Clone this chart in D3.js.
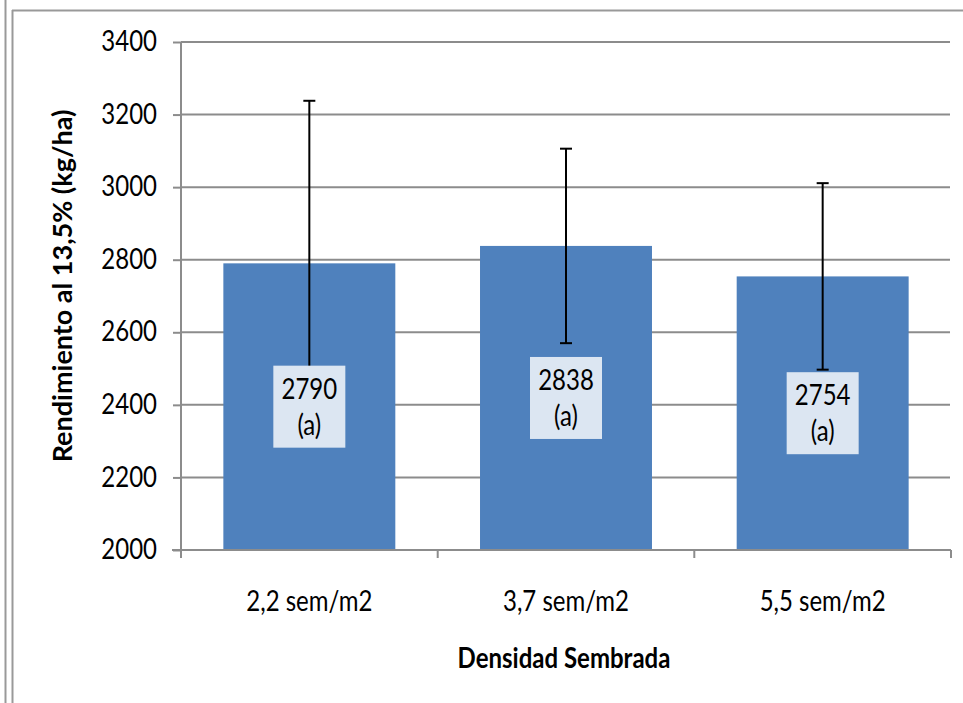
<!DOCTYPE html>
<html>
<head>
<meta charset="utf-8">
<script src="https://cdn.jsdelivr.net/npm/d3@7"></script>
<style>
  body { margin: 0; background: #fff; }
  svg { display: block; font-family: Lato, 'Open Sans', sans-serif; }
  .tick text { fill: #000; }
</style>
</head>
<body>
<svg width="963" height="703"></svg>
<script>
const categories = ['2,2 sem/m2', '3,7 sem/m2', '5,5 sem/m2']
const values = [2790, 2838, 2754]
const errors = [448, 268, 257]
const letters = ['(a)', '(a)', '(a)']
const yTicks = [2000, 2200, 2400, 2600, 2800, 3000, 3200, 3400]

const svg = d3.select('svg')

// frame lines
svg.append('line').attr('x1', 5.5).attr('x2', 5.5).attr('y1', 0).attr('y2', 703)
  .attr('stroke', '#999').attr('stroke-width', 2)
svg.append('line').attr('x1', 12.5).attr('x2', 12.5).attr('y1', 10).attr('y2', 703)
  .attr('stroke', '#999').attr('stroke-width', 2)
svg.append('line').attr('x1', 12).attr('x2', 963).attr('y1', 10.5).attr('y2', 10.5)
  .attr('stroke', '#999').attr('stroke-width', 2)

const x = d3.scaleBand().domain(categories).range([181, 951]).paddingInner(0.33).paddingOuter(0.165)
const y = d3.scaleLinear().domain([2000, 3400]).range([550, 42])

// gridlines
svg.append('g')
  .selectAll('line')
  .data(yTicks.slice(1))
  .enter()
  .append('line')
  .attr('x1', 181).attr('x2', 950)
  .attr('y1', d => y(d)).attr('y2', d => y(d))
  .attr('stroke', '#8c8c8c').attr('stroke-width', 2)

// bars
svg.append('g')
  .selectAll('rect')
  .data(values)
  .enter()
  .append('rect')
  .attr('x', (d, i) => x(categories[i]))
  .attr('width', x.bandwidth())
  .attr('y', d => y(d))
  .attr('height', d => y(2000) - y(d))
  .attr('fill', '#4f81bd')

// error bars
const err = svg.append('g').attr('stroke', '#000').attr('stroke-width', 2)
values.forEach((v, i) => {
  const cx = x(categories[i]) + x.bandwidth() / 2
  err.append('line').attr('x1', cx).attr('x2', cx).attr('y1', y(v + errors[i])).attr('y2', y(v - errors[i]))
  err.append('line').attr('x1', cx - 6).attr('x2', cx + 6).attr('y1', y(v + errors[i])).attr('y2', y(v + errors[i]))
  err.append('line').attr('x1', cx - 6).attr('x2', cx + 6).attr('y1', y(v - errors[i])).attr('y2', y(v - errors[i]))
})

// value labels (text slightly stretched vertically like the original)
const labels = svg.append('g')
values.forEach((v, i) => {
  const cx = x(categories[i]) + x.bandwidth() / 2
  const cy = (y(v) + y(2000)) / 2
  labels.append('rect').attr('x', cx - 36).attr('y', cy - 41).attr('width', 72).attr('height', 82)
    .attr('fill', '#dce6f2')
  labels.append('text').attr('transform', `translate(${cx},${cy - 8}) scale(1,1.2)`).attr('text-anchor', 'middle')
    .style('font-size', '24px').text(v)
  labels.append('text').attr('transform', `translate(${cx},${cy + 28}) scale(1,1.2)`).attr('text-anchor', 'middle')
    .style('font-size', '24px').text(letters[i])
})

// y axis
const yAxis = svg.append('g')
  .attr('transform', 'translate(181,0)')
  .call(d3.axisLeft(y).tickValues(yTicks).tickFormat(d3.format('d')).tickSize(8).tickPadding(16))
  .attr('font-family', null).attr('font-size', null)
yAxis.selectAll('.tick line').attr('stroke', '#8c8c8c').attr('stroke-width', 2)
yAxis.selectAll('.tick text')
  .attr('transform', 'scale(1,1.2)')
  .attr('dy', '0.3em')
  .style('font-size', '24px')
yAxis.select('.domain').attr('stroke', '#8c8c8c').attr('stroke-width', 2).attr('d', 'M0,42V550')

// x axis
const xAxis = svg.append('g')
  .attr('transform', 'translate(0,550)')
  .call(d3.axisBottom(x).tickSize(0).tickPadding(0))
  .attr('font-family', null).attr('font-size', null)
xAxis.select('.domain').attr('stroke', '#8c8c8c').attr('stroke-width', 2).attr('d', 'M172,0H951')
xAxis.selectAll('.tick text')
  .attr('y', null).attr('dy', null)
  .attr('transform', 'translate(0,61) scale(1,1.2)')
  .style('font-size', '24px')
xAxis.selectAll('.sep')
  .data([181, 437.7, 694.3, 951])
  .enter()
  .append('line')
  .attr('x1', d => d).attr('x2', d => d).attr('y1', 0).attr('y2', 8)
  .attr('stroke', '#8c8c8c').attr('stroke-width', 2)

// axis titles
svg.append('text')
  .attr('transform', 'translate(72,286) rotate(-90)')
  .attr('text-anchor', 'middle')
  .style('font-size', '27px').style('font-weight', 'bold')
  .text('Rendimiento al 13,5% (kg/ha)')

svg.append('text')
  .attr('transform', 'translate(564,668) scale(1,1.15)')
  .attr('text-anchor', 'middle')
  .style('font-size', '24px').style('font-weight', 'bold')
  .text('Densidad Sembrada')
</script>
</body>
</html>
